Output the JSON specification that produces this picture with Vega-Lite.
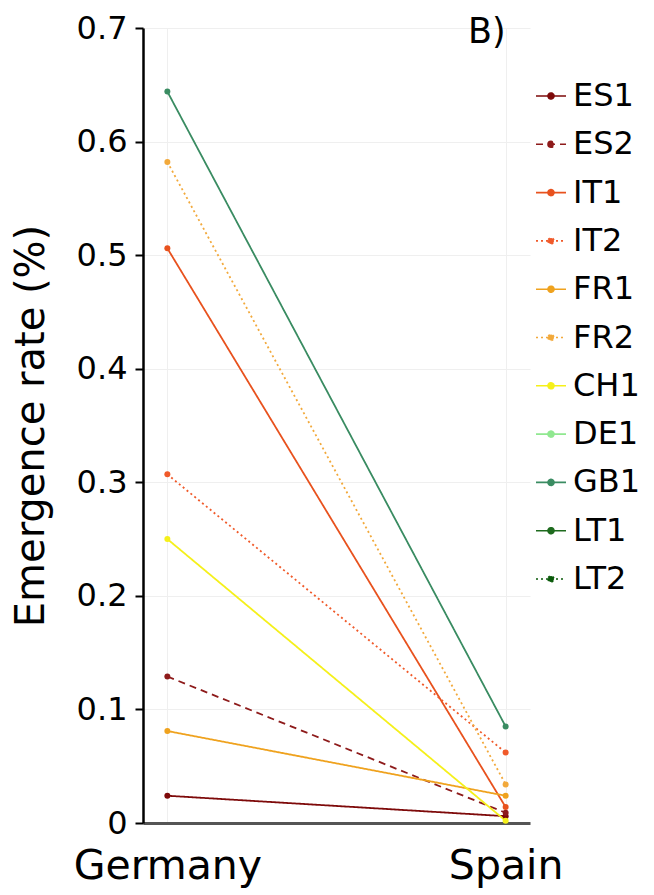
{
  "$schema": "https://vega.github.io/schema/vega-lite/v6.json",
  "width": 387,
  "height": 795,
  "padding": {"left": 11, "top": 12, "right": 5, "bottom": 5},
  "background": "white",
  "config": {
    "font": "DejaVu Sans",
    "view": {"stroke": null},
    "axis": {"gridColor": "#EFEFEF", "gridWidth": 1, "labelColor": "black", "titleColor": "black", "titleFontWeight": "normal"}
  },
  "data": {
    "values": [
      {"site": "ES1", "country": "Germany", "rate": 0.024},
      {"site": "ES1", "country": "Spain", "rate": 0.006},
      {"site": "ES2", "country": "Germany", "rate": 0.129},
      {"site": "ES2", "country": "Spain", "rate": 0.009},
      {"site": "IT1", "country": "Germany", "rate": 0.506},
      {"site": "IT1", "country": "Spain", "rate": 0.014},
      {"site": "IT2", "country": "Germany", "rate": 0.307},
      {"site": "IT2", "country": "Spain", "rate": 0.062},
      {"site": "FR1", "country": "Germany", "rate": 0.081},
      {"site": "FR1", "country": "Spain", "rate": 0.024},
      {"site": "FR2", "country": "Germany", "rate": 0.582},
      {"site": "FR2", "country": "Spain", "rate": 0.034},
      {"site": "CH1", "country": "Germany", "rate": 0.25},
      {"site": "CH1", "country": "Spain", "rate": 0.002},
      {"site": "GB1", "country": "Germany", "rate": 0.644},
      {"site": "GB1", "country": "Spain", "rate": 0.085}
    ]
  },
  "encoding": {
    "x": {
      "field": "country", "type": "nominal",
      "scale": {"type": "point", "padding": 0.072},
      "axis": {"title": null, "labelAngle": 0, "labelFontSize": 41, "labelPadding": 23, "labelLimit": 400, "ticks": false, "domainColor": "#555555", "domainWidth": 3, "grid": true}
    },
    "y": {
      "field": "rate", "type": "quantitative",
      "scale": {"domain": [0, 0.7], "nice": false},
      "axis": {"title": "Emergence rate (%)", "titleFontSize": 40, "titlePadding": 25, "labelFontSize": 32, "labelPadding": 8, "tickSize": 8, "tickWidth": 2, "tickColor": "black", "domainColor": "black", "domainWidth": 2.5, "values": [0, 0.1, 0.2, 0.3, 0.4, 0.5, 0.6, 0.7], "format": ".1~f", "grid": true}
    },
    "color": {
      "field": "site", "type": "nominal",
      "scale": {
        "domain": ["ES1", "ES2", "IT1", "IT2", "FR1", "FR2", "CH1", "DE1", "GB1", "LT1", "LT2"],
        "range": ["#7E0A0A", "#8E1B1B", "#E8521E", "#F05A2A", "#EFA21E", "#F2A93B", "#F5F01A", "#90E890", "#3A8C62", "#1E6B1E", "#0A5A0A"]
      },
      "legend": {
        "title": null,
        "orient": "none",
        "legendX": 392,
        "legendY": 52,
        "labelFontSize": 32,
        "labelColor": "black",
        "labelOffset": 6,
        "symbolType": "M-1,0H1M-0.2,0a0.2,0.2 0 1,0 0.4,0a0.2,0.2 0 1,0 -0.4,0Z",
        "symbolSize": 900,
        "symbolStrokeWidth": 1.6,
        "rowPadding": 16.3
      }
    }
  },
  "layer": [
    {
      "mark": {"type": "line", "strokeWidth": 1.8},
      "encoding": {
        "strokeDash": {
          "field": "site", "type": "nominal",
          "scale": {
            "domain": ["ES1", "ES2", "IT1", "IT2", "FR1", "FR2", "CH1", "DE1", "GB1", "LT1", "LT2"],
            "range": [[1, 0], [7, 5], [1, 0], [2, 3], [1, 0], [2, 3], [1, 0], [1, 0], [1, 0], [1, 0], [2, 3]]
          },
          "legend": {
            "title": null,
            "orient": "none",
            "legendX": 392,
            "legendY": 52,
            "labelFontSize": 32,
            "labelColor": "black",
            "labelOffset": 6,
            "symbolType": "M-1,0H1M-0.2,0a0.2,0.2 0 1,0 0.4,0a0.2,0.2 0 1,0 -0.4,0Z",
            "symbolSize": 900,
            "symbolStrokeWidth": 1.6,
            "rowPadding": 16.3
          }
        }
      }
    },
    {
      "mark": {"type": "circle", "size": 36, "opacity": 1}
    },
    {
      "data": {"values": [{"label": "B)", "country": "Spain", "rate": 0.7}]},
      "mark": {"type": "text", "fontSize": 35, "align": "right", "baseline": "alphabetic", "dy": 15, "color": "black"},
      "encoding": {"text": {"field": "label"}, "color": {"value": "black"}}
    }
  ]
}
